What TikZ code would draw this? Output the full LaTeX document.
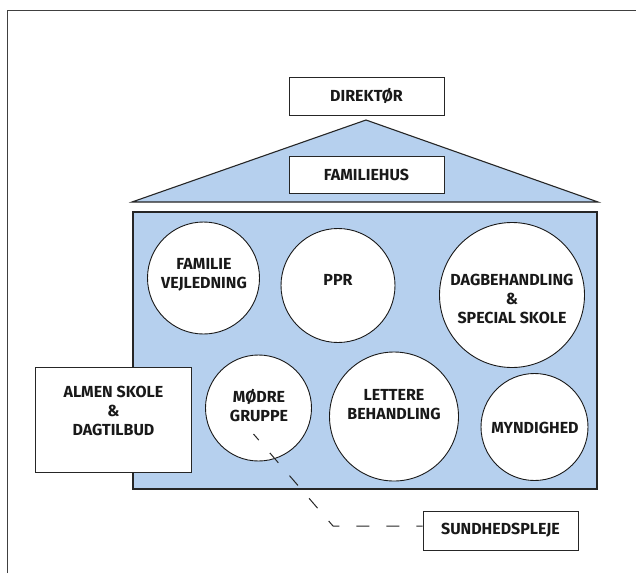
\documentclass[tikz,border=0pt]{standalone}
\usepackage{fontspec}
\setmainfont{Fira Sans}
\begin{document}
\begin{tikzpicture}[x=1pt,y=-1pt,
  housefill/.style={fill=houseblue, draw=black!85, line width=1.1pt},
  whitebox/.style={draw=black!85, fill=white, line width=1pt, rectangle, inner sep=0pt},
  circ/.style={draw=black!90, fill=white, line width=0.9pt, circle, inner sep=0pt},
  lbl/.style={font=\bfseries\fontsize{16}{19}\selectfont, align=center, inner sep=0pt, text=black!90},
  conn/.style={draw=black!85, line width=1pt, dash pattern=on 13pt off 17pt, dash phase=5pt}
]
\definecolor{houseblue}{HTML}{B6D0EE}
\useasboundingbox (0,0) rectangle (636,573);
\fill[white] (0,0) rectangle (636,573);
% outer frame (only left and top edges visible)
\draw[black!75, line width=1pt] (7,573) -- (7,10) -- (636,10);

% roof
\draw[housefill] (366,120) -- (598,202) -- (132,202) -- cycle;
% main body
\draw[housefill] (133,212) rectangle (597,489);

% boxes
\node[whitebox, minimum width=155, minimum height=38] (dir) at (366.5,96.5) {};
\node[lbl] (dirt) at (366.5,96) {DIREKTØR};
\node[whitebox, minimum width=155, minimum height=37] (fam) at (366.5,174.5) {};
\node[lbl] (famt) at (366.5,175) {FAMILIEHUS};
\node[whitebox, minimum width=156, minimum height=105] (alm) at (113,419.5) {};
\node[lbl] (almt) at (113.5,411) {ALMEN SKOLE\\\&\\DAGTILBUD};
\node[whitebox, minimum width=155, minimum height=39] (sun) at (500.5,530.5) {};
\node[lbl] (sunt) at (500.5,530) {SUNDHEDSPLEJE};

% circles
\node[circ, minimum size=112] (fv) at (203.5,278) {};
\node[lbl] (fvt) at (204,275) {FAMILIE\\VEJLEDNING};
\node[circ, minimum size=114] (ppr) at (338,285.5) {};
\node[lbl] (pprt) at (338,280) {PPR};
\node[circ, minimum size=145] (dag) at (512,295) {};
\node[lbl] (dagt) at (512,299) {DAGBEHANDLING\\\&\\SPECIAL SKOLE};
\node[circ, minimum size=106] (mod) at (258.5,408) {};
\node[lbl] (modt) at (259,406) {MØDRE\\GRUPPE};
\node[circ, minimum size=129] (let) at (394,416.5) {};
\node[lbl] (lett) at (394,405) {LETTERE\\BEHANDLING};
\node[circ, minimum size=107] (myn) at (534.5,427) {};
\node[lbl] (mynt) at (535,428) {MYNDIGHED};

% dashed connector
\coordinate (cstart) at (253.5,434);
\coordinate (ccorner) at (333,526);
\draw[conn] (cstart) -- (ccorner) -- (sun.west |- ccorner);
\end{tikzpicture}
\end{document}
